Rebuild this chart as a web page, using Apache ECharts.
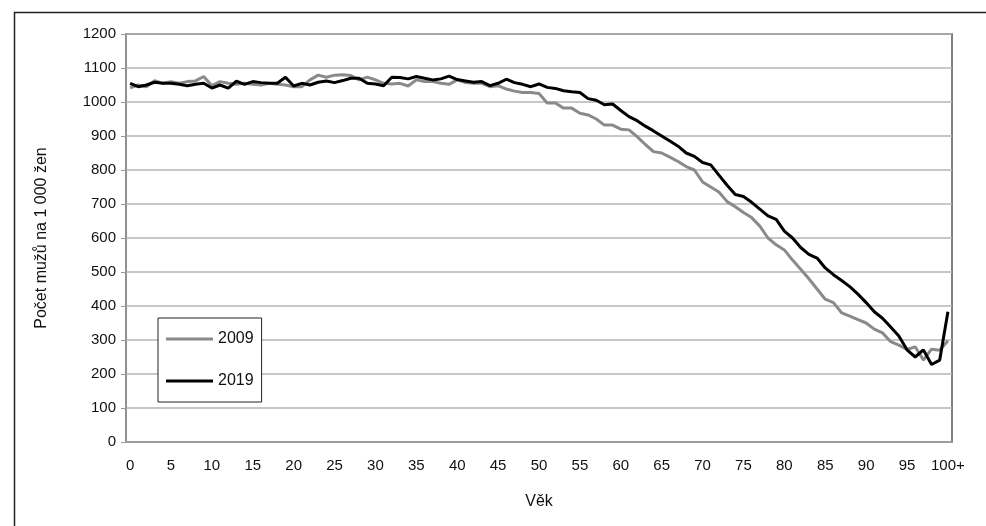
<!DOCTYPE html>
<html>
<head>
<meta charset="utf-8">
<script src="https://cdn.jsdelivr.net/npm/echarts@6/dist/echarts.min.js"></script>
<style>html,body{margin:0;padding:0;background:#fff}#c{width:986px;height:526px}</style>
</head>
<body>
<div id="c"></div>
<script>
const ages = [];
for (let i = 0; i < 100; i++) ages.push(String(i));
ages.push('100+');

const s2009 = [1042,1050,1045,1063,1055,1060,1055,1060,1062,1075,
1048,1060,1055,1052,1055,1052,1050,1055,1052,1050,
1045,1045,1065,1079,1073,1079,1080,1078,1065,1073,
1065,1055,1053,1055,1047,1065,1060,1060,1055,1052,
1065,1057,1055,1055,1045,1048,1038,1032,1028,1028,
1025,997,997,982,982,967,962,950,932,932,
920,918,898,875,854,850,838,825,810,800,
765,750,735,707,692,675,660,635,600,580,
565,535,508,480,450,420,410,380,370,360,
350,332,321,295,285,272,280,241,273,270,
298];

const s2019 = [1055,1045,1050,1058,1055,1055,1052,1048,1052,1055,
1041,1050,1041,1061,1052,1060,1057,1055,1055,1073,
1047,1055,1050,1058,1062,1057,1063,1070,1070,1055,
1053,1048,1073,1072,1068,1075,1070,1065,1068,1076,
1066,1062,1058,1060,1048,1055,1067,1057,1052,1045,
1053,1043,1040,1033,1030,1028,1010,1005,992,994,
975,957,945,929,915,900,885,870,850,840,
822,815,785,755,728,722,705,685,665,655,
620,600,572,552,541,512,492,475,457,435,
410,383,364,338,312,271,250,271,228,241,
383];

const chart = echarts.init(document.getElementById('c'), null, {renderer: 'canvas'});
const font = 'Liberation Sans, Arial, sans-serif';
chart.setOption({
  animation: false,
  backgroundColor: '#fff',
  textStyle: {fontFamily: font},
  graphic: [{
    type: 'rect', left: 12, top: 10, z: -10,
    shape: {width: 1000, height: 600},
    style: {fill: 'none', stroke: '#222', lineWidth: 1.5}
  }],
  grid: {left: 126, right: 34, top: 34, bottom: 84, show: true, borderColor: '#555', borderWidth: 1.5, backgroundColor: 'transparent'},
  legend: {
    orient: 'vertical', left: 158, top: 318,
    data: ['2009', '2019'],
    itemWidth: 47, itemHeight: 14, itemGap: 26,
    padding: [13, 8, 13, 8],
    borderColor: '#222', borderWidth: 1, backgroundColor: '#fff',
    textStyle: {fontFamily: font, fontSize: 16, color: '#111'},
    icon: 'path://M0,6 L47,6 L47,9 L0,9 Z'
  },
  xAxis: {
    type: 'category', data: ages, boundaryGap: true,
    name: 'Věk', nameLocation: 'middle', nameGap: 52,
    nameTextStyle: {fontFamily: font, fontSize: 16, color: '#111'},
    axisLine: {lineStyle: {color: '#999', width: 1.5}},
    axisTick: {show: false},
    axisLabel: {interval: 4, fontFamily: font, fontSize: 15, color: '#111', margin: 16},
    splitLine: {show: false}
  },
  yAxis: {
    type: 'value', min: 0, max: 1200, interval: 100,
    name: 'Počet mužů na 1 000 žen', nameLocation: 'middle', nameGap: 76,
    nameTextStyle: {fontFamily: font, fontSize: 16, color: '#111'},
    axisLine: {show: true, lineStyle: {color: '#999', width: 1.5}},
    axisTick: {show: true, length: 5, lineStyle: {color: '#999'}},
    axisLabel: {fontFamily: font, fontSize: 15, color: '#111', margin: 10, formatter: v => String(v)},
    splitLine: {lineStyle: {color: '#b5b5b5', width: 1.5}}
  },
  series: [
    {name: '2009', type: 'line', data: s2009, symbol: 'none', lineStyle: {color: '#8a8a8a', width: 3}, itemStyle: {color: '#8a8a8a'}, z: 2},
    {name: '2019', type: 'line', data: s2019, symbol: 'none', lineStyle: {color: '#000', width: 3}, itemStyle: {color: '#000'}, z: 3}
  ]
});
</script>
</body>
</html>
